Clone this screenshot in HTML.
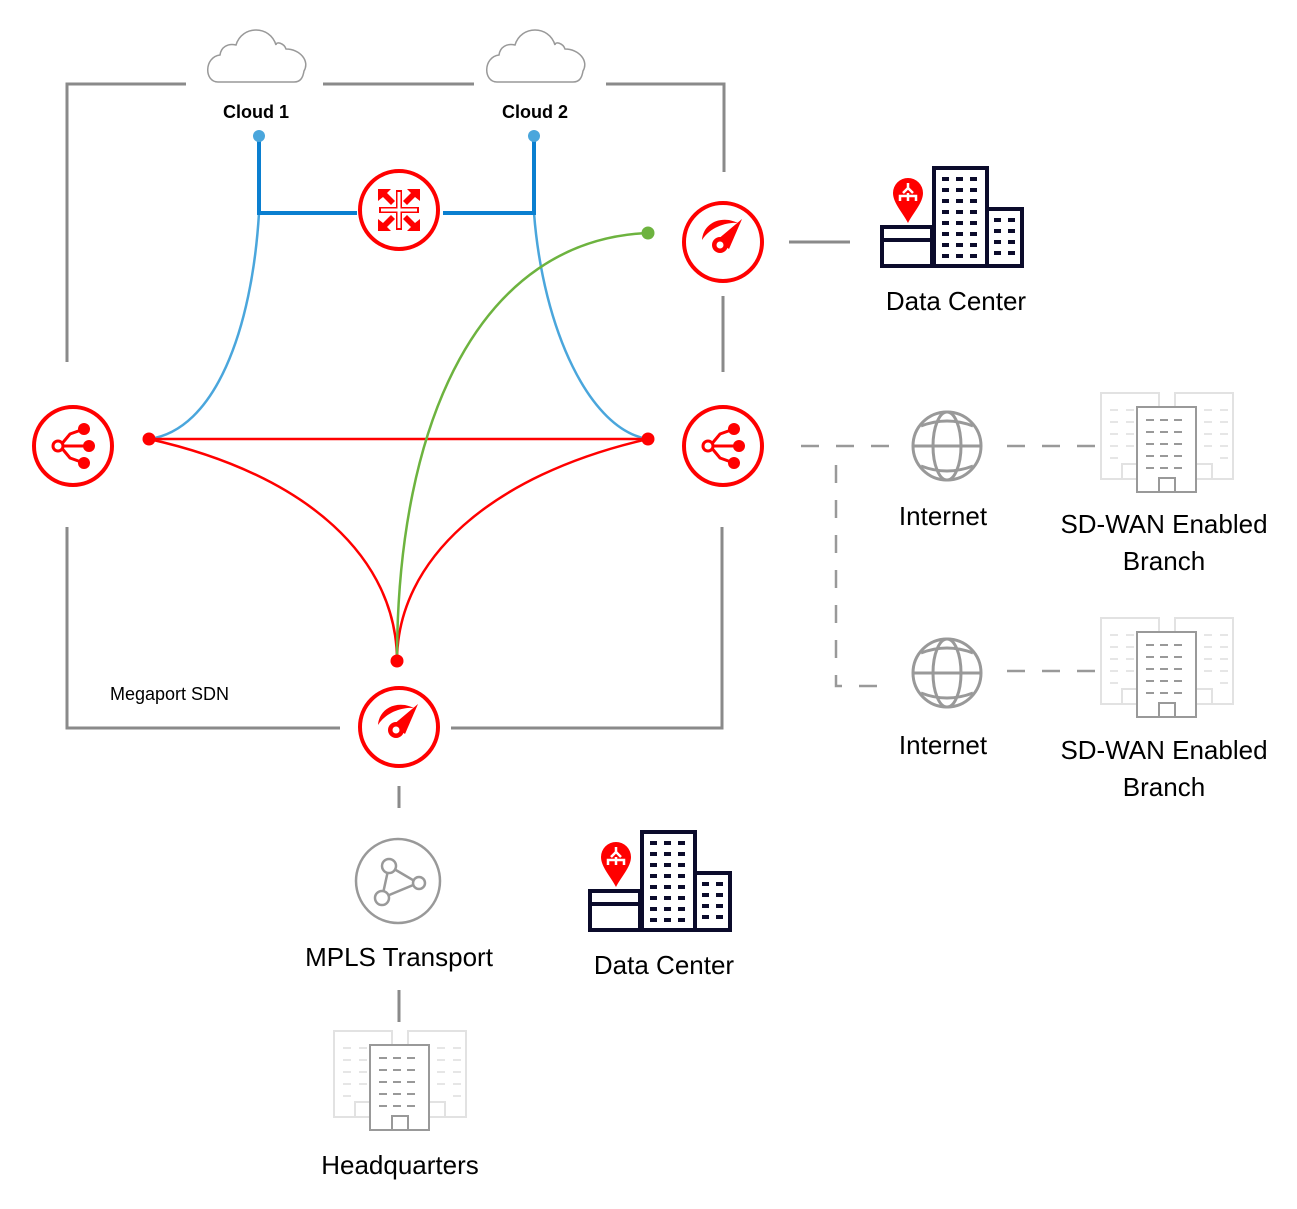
<!DOCTYPE html>
<html><head><meta charset="utf-8"><style>
html,body{margin:0;padding:0;background:#fff;}
svg{display:block;}
text{font-family:"Liberation Sans",sans-serif;fill:#000;}
</style></head><body>
<svg width="1297" height="1209" viewBox="0 0 1297 1209" xmlns="http://www.w3.org/2000/svg">
<defs>
<g id="bldg">
 <rect x="1" y="1" width="58" height="86" fill="#fff" stroke="#e2e2e2" stroke-width="2"/>
 <rect x="75" y="1" width="58" height="86" fill="#fff" stroke="#e2e2e2" stroke-width="2"/>
 <rect x="22" y="72" width="18" height="15" fill="none" stroke="#e2e2e2" stroke-width="2"/>
 <rect x="94" y="72" width="18" height="15" fill="none" stroke="#e2e2e2" stroke-width="2"/>
 <g stroke="#e6e6e6" stroke-width="2">
  <path d="M10 18h8M26 18h8M10 30h8M26 30h8M10 42h8M26 42h8M10 54h8M26 54h8M10 66h8"/>
  <path d="M104 18h8M120 18h8M104 30h8M120 30h8M104 42h8M120 42h8M104 54h8M120 54h8M120 66h8"/>
 </g>
 <rect x="37" y="15" width="59" height="85" fill="#fff" stroke="#999" stroke-width="2"/>
 <rect x="59" y="86" width="16" height="14" fill="#fff" stroke="#999" stroke-width="2"/>
 <g stroke="#999" stroke-width="2">
  <path d="M46 28h8M60 28h8M74 28h8M46 40h8M60 40h8M74 40h8M46 52h8M60 52h8M74 52h8M46 64h8M60 64h8M74 64h8M46 76h8M60 76h8M74 76h8"/>
 </g>
</g>
<g id="dc">
 <rect x="2" y="61" width="50" height="39" fill="#fff" stroke="#0b0b2b" stroke-width="4"/>
 <line x1="2" y1="74" x2="52" y2="74" stroke="#0b0b2b" stroke-width="4"/>
 <rect x="54" y="2" width="53" height="98" fill="#fff" stroke="#0b0b2b" stroke-width="4"/>
 <rect x="107" y="43" width="35" height="57" fill="#fff" stroke="#0b0b2b" stroke-width="4"/>
 <g fill="#0b0b2b">
  <rect x="62" y="11" width="7" height="4"/><rect x="76" y="11" width="7" height="4"/><rect x="90" y="11" width="7" height="4"/>
  <rect x="62" y="22" width="7" height="4"/><rect x="76" y="22" width="7" height="4"/><rect x="90" y="22" width="7" height="4"/>
  <rect x="62" y="33" width="7" height="4"/><rect x="76" y="33" width="7" height="4"/><rect x="90" y="33" width="7" height="4"/>
  <rect x="62" y="44" width="7" height="4"/><rect x="76" y="44" width="7" height="4"/><rect x="90" y="44" width="7" height="4"/>
  <rect x="62" y="55" width="7" height="4"/><rect x="76" y="55" width="7" height="4"/><rect x="90" y="55" width="7" height="4"/>
  <rect x="62" y="66" width="7" height="4"/><rect x="76" y="66" width="7" height="4"/><rect x="90" y="66" width="7" height="4"/>
  <rect x="62" y="77" width="7" height="4"/><rect x="76" y="77" width="7" height="4"/><rect x="90" y="77" width="7" height="4"/>
  <rect x="62" y="88" width="7" height="4"/><rect x="76" y="88" width="7" height="4"/><rect x="90" y="88" width="7" height="4"/>
  <rect x="114" y="52" width="7" height="4"/><rect x="128" y="52" width="7" height="4"/>
  <rect x="114" y="63" width="7" height="4"/><rect x="128" y="63" width="7" height="4"/>
  <rect x="114" y="74" width="7" height="4"/><rect x="128" y="74" width="7" height="4"/>
  <rect x="114" y="85" width="7" height="4"/><rect x="128" y="85" width="7" height="4"/>
 </g>
 <path d="M28 12 a15 15 0 0 1 15 15 c0 10 -10 20 -15 30 c-5 -10 -15 -20 -15 -30 a15 15 0 0 1 15 -15z" fill="#f00"/>
 <path d="M28 17 l0 5 M23 27 l5 -5 l5 5 M20 35 l0 -5 l16 0 l0 5 M28 27 l0 8" stroke="#fff" stroke-width="2.5" fill="none"/>
</g>
<g id="hub">
 <circle cx="0" cy="0" r="39" fill="#fff" stroke="#f00" stroke-width="4"/>
 <path d="M-13 0 L-3 -12 L11 -17 M-13 0 H15 M-13 0 L-3 12 L11 17" stroke="#f00" stroke-width="3" fill="none"/>
 <circle cx="-15" cy="0" r="5" fill="#fff" stroke="#f00" stroke-width="3"/>
 <circle cx="11" cy="-17" r="6" fill="#f00"/>
 <circle cx="16" cy="0" r="6" fill="#f00"/>
 <circle cx="11" cy="17" r="6" fill="#f00"/>
</g>
<g id="gauge">
 <circle cx="0" cy="0" r="39" fill="#fff" stroke="#f00" stroke-width="4"/>
 <path d="M-21 -2 C-20 -16 -8 -24 6 -22 C10 -21 13 -20 15 -19 C5 -20 -12 -16 -21 -2z" fill="#f00"/>
 <path d="M-6 -2 L19 -23 L6 7 z" fill="#f00"/>
 <circle cx="-3" cy="3" r="8" fill="#f00"/>
 <circle cx="-3" cy="3" r="3.5" fill="#fff"/>
</g>
<g id="globe" fill="none" stroke="#999" stroke-width="3">
 <circle cx="0" cy="0" r="34"/>
 <ellipse cx="0" cy="0" rx="14" ry="34"/>
 <line x1="-34" y1="0" x2="34" y2="0"/>
 <path d="M-26 -20 Q0 -30 26 -20 M-26 20 Q0 30 26 20"/>
</g>
<g id="cloud">
 <path d="M-38 25 C-52 25 -52 0 -36 -2 C-35 -10 -28 -14 -20 -12 C-14 -32 14 -32 20 -12 C20 -16 28 -14 30 -8 C44 -8 54 4 48 14 C47 20 45 25 38 25 Z" fill="#fff" stroke="#999" stroke-width="1.5"/>
</g>
</defs>

<g stroke="#8a8a8a" stroke-width="3" fill="none">
 <path d="M67 362 V84 H186"/>
 <path d="M323 84 H474"/>
 <path d="M606 84 H724 V172"/>
 <path d="M723 296 V372"/>
 <path d="M722 527 V728 H451"/>
 <path d="M340 728 H67 V527"/>
 <path d="M399 786 V808"/>
 <path d="M399 990 V1022"/>
 <path d="M789 242 H850"/>
</g>
<g stroke="#999" stroke-width="2.5" fill="none">
 <path d="M801 446 H890" stroke-dasharray="18 17"/>
 <path d="M836 465 V686 H842" stroke-dasharray="18 17"/>
 <path d="M859 686 H877"/>
 <path d="M1007 446 H1095" stroke-dasharray="18 17"/>
 <path d="M1007 671 H1095" stroke-dasharray="18 17"/>
</g>

<use href="#cloud" x="256" y="57"/>
<use href="#cloud" x="535" y="57"/>
<text x="256" y="118" font-size="18" font-weight="bold" text-anchor="middle">Cloud 1</text>
<text x="535" y="118" font-size="18" font-weight="bold" text-anchor="middle">Cloud 2</text>

<g fill="none">
 <path d="M259 213 C252 330 215 430 149 439" stroke="#4aa6dc" stroke-width="2.5"/>
 <path d="M534 213 C543 330 590 430 648 439" stroke="#4aa6dc" stroke-width="2.5"/>
 <path d="M259 136 V213 H357 M443 213 H534 V136" stroke="#0a7fd0" stroke-width="4"/>
</g>
<circle cx="259" cy="136" r="6" fill="#4aa6dc"/>
<circle cx="534" cy="136" r="6" fill="#4aa6dc"/>

<g fill="none" stroke="#f00" stroke-width="2.5">
 <path d="M149 439 H648"/>
 <path d="M149 439 C310 475 397 560 397 661"/>
 <path d="M648 439 C490 475 397 560 397 661"/>
</g>
<path d="M648 233 C480 240 397 420 397 661" fill="none" stroke="#6db33f" stroke-width="2.5"/>
<circle cx="648" cy="233" r="6.5" fill="#6db33f"/>
<circle cx="149" cy="439" r="6.5" fill="#f00"/>
<circle cx="648" cy="439" r="6.5" fill="#f00"/>
<circle cx="397" cy="661" r="6.5" fill="#f00"/>

<circle cx="399" cy="210" r="39" fill="#fff" stroke="#f00" stroke-width="4"/>
<g fill="#f00">
 <path d="M378 189 h13 l-4 4 8 8 -4 4 -8 -8 -5 4z"/>
 <path d="M420 189 h-13 l4 4 -8 8 4 4 8 -8 5 4z"/>
 <path d="M378 231 h13 l-4 -4 8 -8 -4 -4 -8 8 -5 -4z"/>
 <path d="M420 231 h-13 l4 -4 -8 -8 4 -4 8 8 5 -4z"/>
 <rect x="396" y="190" width="6" height="40"/>
 <rect x="379" y="207" width="40" height="6"/>
</g>
<g fill="#fff"><rect x="397.5" y="192" width="3" height="36"/><rect x="381" y="208.5" width="36" height="3"/></g>

<use href="#gauge" x="723" y="242"/>
<use href="#gauge" x="399" y="727"/>
<use href="#hub" x="73" y="446"/>
<use href="#hub" x="723" y="446"/>

<use href="#dc" x="880" y="166"/>
<use href="#dc" x="588" y="830"/>
<text x="956" y="310" font-size="26" text-anchor="middle">Data Center</text>
<text x="664" y="974" font-size="26" text-anchor="middle">Data Center</text>

<use href="#globe" x="947" y="446"/>
<use href="#globe" x="947" y="673"/>
<text x="943" y="525" font-size="26" text-anchor="middle">Internet</text>
<text x="943" y="754" font-size="26" text-anchor="middle">Internet</text>

<use href="#bldg" x="1100" y="392"/>
<use href="#bldg" x="1100" y="617"/>
<use href="#bldg" x="333" y="1030"/>
<text x="1164" y="533" font-size="26" text-anchor="middle">SD-WAN Enabled</text>
<text x="1164" y="570" font-size="26" text-anchor="middle">Branch</text>
<text x="1164" y="759" font-size="26" text-anchor="middle">SD-WAN Enabled</text>
<text x="1164" y="796" font-size="26" text-anchor="middle">Branch</text>

<circle cx="398" cy="881" r="42" fill="#fff" stroke="#999" stroke-width="2.5"/>
<g fill="#fff" stroke="#999" stroke-width="2.5">
 <path d="M389 866 L382 898 L418 883 Z" fill="none"/>
 <circle cx="389" cy="866" r="7"/>
 <circle cx="382" cy="898" r="7"/>
 <circle cx="419" cy="883" r="6"/>
</g>
<text x="399" y="966" font-size="26" text-anchor="middle">MPLS Transport</text>
<text x="400" y="1174" font-size="26" text-anchor="middle">Headquarters</text>
<text x="110" y="700" font-size="18">Megaport SDN</text>
</svg>
</body></html>
